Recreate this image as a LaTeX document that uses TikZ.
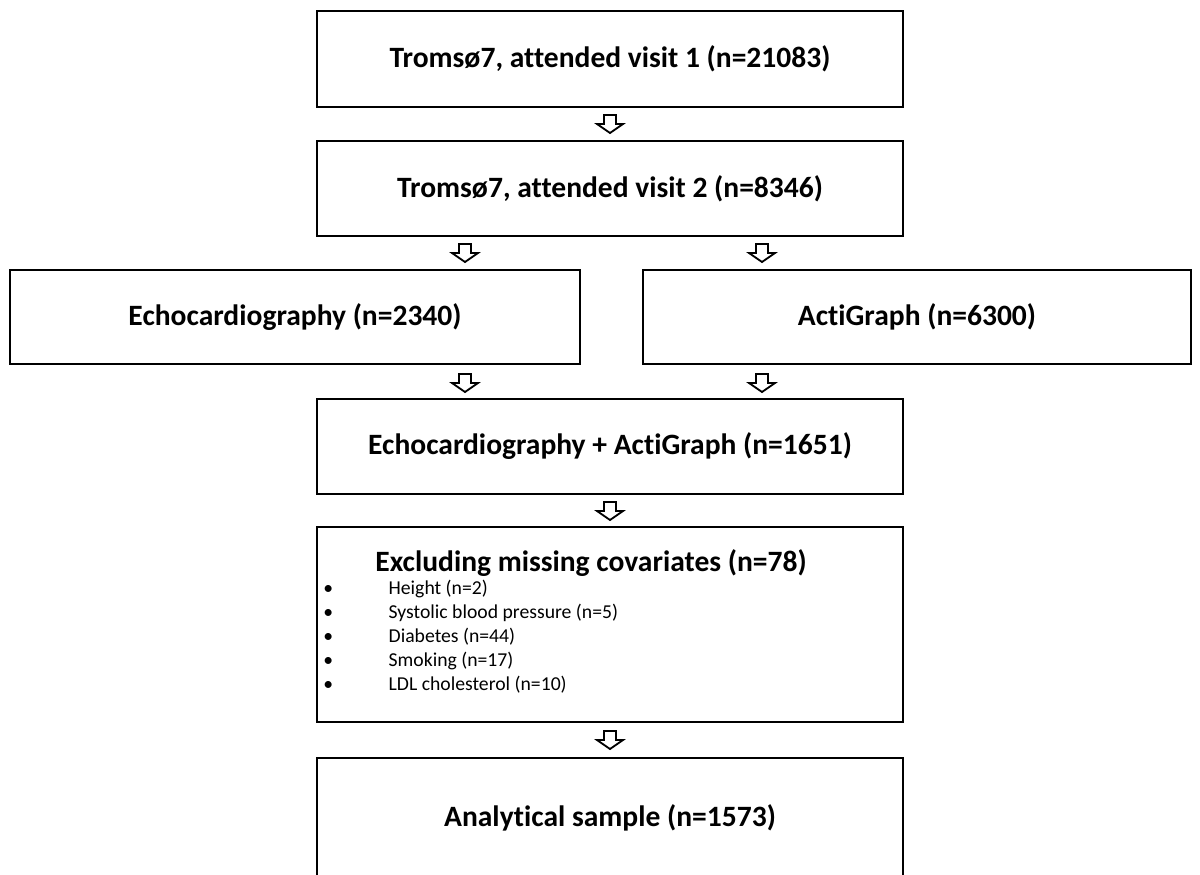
\documentclass[tikz,border=0pt]{standalone}
\usepackage{fontspec}
\setmainfont{Carlito}[Ligatures=CommonOff]
\usepackage{tikz}
\usetikzlibrary{positioning}

\tikzset{
  box/.style={draw, line width=1pt, rectangle, inner sep=0pt, font=\fontsize{21}{24}\selectfont\bfseries},
  arrowline/.style={draw, line width=1.3pt, fill=white, line join=miter},
  blockdown/.pic={\path[arrowline] (-6,-9) -- (6,-9) -- (6,0) -- (13,0) -- (0,9) -- (-13,0) -- (-6,0) -- cycle;}
}

\begin{document}
\begin{tikzpicture}[x=0.025cm,y=-0.025cm]
\useasboundingbox (0,0) rectangle (1200,874);
\clip (0,0) rectangle (1200,874);

\node[box, minimum width=14.65cm, minimum height=2.4cm] (visit1) at (610,59) {Tromsø7, attended visit 1 (n=21083)};
\node[box, minimum width=14.65cm, minimum height=2.375cm] (visit2) at (610,188.5) {Tromsø7, attended visit 2 (n=8346)};
\node[box, minimum width=14.25cm, minimum height=2.35cm] (echo) at (295,317) {Echocardiography (n=2340)};
\node[box, minimum width=13.7cm, minimum height=2.35cm] (acti) at (917,317) {ActiGraph (n=6300)};
\node[box, minimum width=14.65cm, minimum height=2.375cm] (both) at (610,446.5) {Echocardiography + ActiGraph (n=1651)};
\node[box, minimum width=14.65cm, minimum height=4.875cm] (excl) at (610,624.5) {};
\node[font=\fontsize{21}{24}\selectfont\bfseries] (excltitle) at (591,563) {Excluding missing covariates (n=78)};
\node[anchor=north west, inner sep=0pt, align=left, font=\fontsize{14}{17}\selectfont] (excllist) at (323,580) {%
\makebox[46.5pt][l]{\textbullet}Height (n=2)\\
\makebox[46.5pt][l]{\textbullet}Systolic blood pressure (n=5)\\
\makebox[46.5pt][l]{\textbullet}Diabetes (n=44)\\
\makebox[46.5pt][l]{\textbullet}Smoking (n=17)\\
\makebox[46.5pt][l]{\textbullet}LDL cholesterol (n=10)};
\node[box, minimum width=14.65cm, minimum height=3cm] (sample) at (610,818) {Analytical sample (n=1573)};

\coordinate (a1) at (610,124);
\coordinate (a2) at (465,253);
\coordinate (a3) at (762,253);
\coordinate (a4) at (465,383);
\coordinate (a5) at (762,383);
\coordinate (a6) at (610,511);
\coordinate (a7) at (610,740);

\foreach \a in {a1,a2,a3,a4,a5,a6,a7}
  \pic at (\a) {blockdown};
\end{tikzpicture}
\end{document}
